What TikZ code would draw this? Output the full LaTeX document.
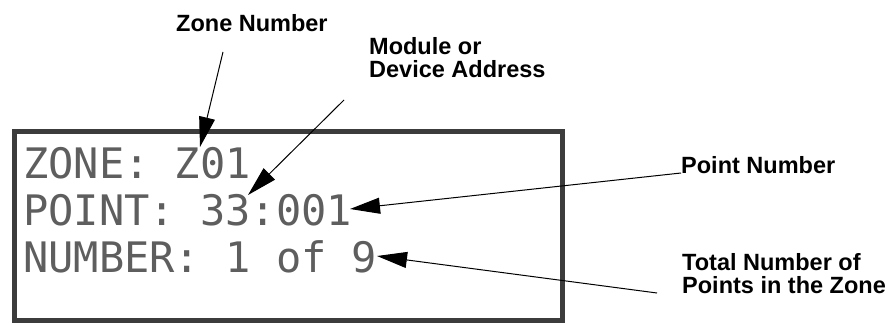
\documentclass[tikz,border=0pt]{standalone}
\usepackage{fontspec}
\setmainfont{Liberation Sans}
\setmonofont{DejaVu Sans Mono}
\usepackage{tikz}
\usetikzlibrary{arrows.meta, positioning}
\definecolor{cFrame}{HTML}{3C3C3C}
\definecolor{cDots}{HTML}{5E5E5E}

\begin{document}
\begin{tikzpicture}[
  x=1pt, y=-1pt,
  lcd/.style={draw=cFrame, line width=5pt, fill=white, minimum width=548pt,
              minimum height=189pt, inner sep=0pt},
  lcdline/.style={font=\fontsize{42}{42}\selectfont\ttfamily, text=cDots,
                  inner sep=0pt, anchor=base west},
  lbl/.style={font=\fontsize{23.5}{23}\selectfont\bfseries, align=left,
              inner sep=0pt, anchor=base west},
  callout/.style={-{Triangle[length=30pt, width=16pt]}, line width=1pt},
]
\useasboundingbox (0,0) rectangle (888,324);

% Nodes
\node[lcd] (panel) at (288.5,226) {};
\node[lcdline] (zoneline) at (23,178) {ZONE: Z01};
\node[lcdline] (pointline) at (23,225) {POINT: 33:001};
\node[lcdline] (numline) at (23,272) {NUMBER: 1 of 9};

% Labels
\node[lbl] (zonelbl) at (176,31) {Zone Number};
\node[lbl] (modlbl) at (369,77) {Module or\\Device Address};
\node[lbl] (pointlbl) at (681,173) {Point Number};
\node[lbl] (totallbl) at (682,293) {Total Number of\\Points in the Zone};

% Arrows
\coordinate (zonefoot) at (223,52);
\coordinate (zonetip) at (200,147);
\coordinate (modfoot) at (344,100);
\coordinate (modtip) at (248,195);
\coordinate (pointtip) at (350,209);
\coordinate (totalfoot) at (657,293);
\coordinate (totaltip) at (377,256);

\draw[callout] (zonefoot) -- (zonetip);
\draw[callout] (modfoot) -- (modtip);
\draw[callout] (pointlbl.base west) -- (pointtip);
\draw[callout] (totalfoot) -- (totaltip);

\end{tikzpicture}
\end{document}
